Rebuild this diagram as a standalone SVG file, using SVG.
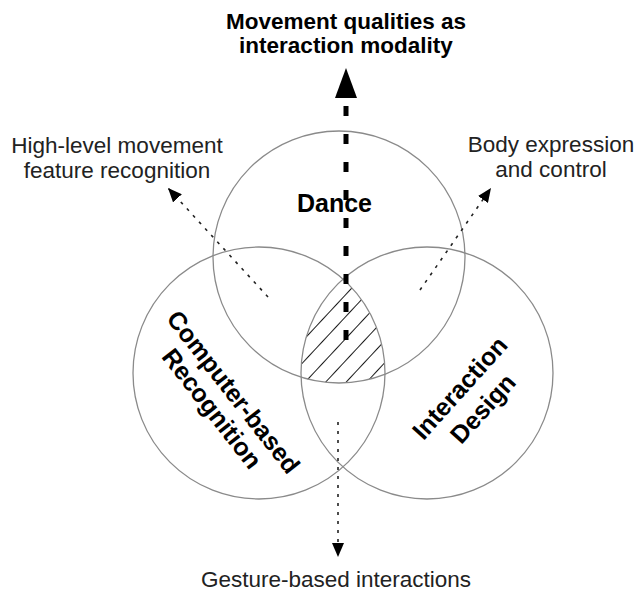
<svg xmlns="http://www.w3.org/2000/svg" width="636" height="593" viewBox="0 0 636 593">
<style>
.c{fill:none;stroke:#8a8a8a;stroke-width:1.3}
.t{font-family:"Liberation Sans",Arial,sans-serif;font-size:22.5px;fill:#222;text-anchor:middle}
.b{font-family:"Liberation Sans",Arial,sans-serif;font-weight:bold;fill:#000;text-anchor:middle}
.dot{fill:none;stroke:#222;stroke-width:1.6;stroke-dasharray:3 6}
</style>
<defs>
<pattern id="hatch" width="15" height="15" patternUnits="userSpaceOnUse" patternTransform="translate(340,300) rotate(43)">
<line x1="0" y1="0" x2="0" y2="15" stroke="#000" stroke-width="1.8"/>
</pattern>
<clipPath id="cC"><circle cx="259" cy="373" r="126"/></clipPath>
<clipPath id="cI"><circle cx="427" cy="373" r="126"/></clipPath>
<marker id="ah" markerUnits="userSpaceOnUse" markerWidth="15" markerHeight="12" refX="14" refY="6" orient="auto" viewBox="0 0 15 12">
<path d="M0,0 L14,6 L0,12 z" fill="#000"/>
</marker>
<marker id="ahBig" markerUnits="userSpaceOnUse" markerWidth="31" markerHeight="22" refX="30" refY="11" orient="auto" viewBox="0 0 31 22">
<path d="M0,0 L30,11 L0,22 z" fill="#000"/>
</marker>
</defs>
<g id="hatched-intersection" clip-path="url(#cC)"><g clip-path="url(#cI)">
<circle cx="339" cy="257" r="126" fill="url(#hatch)"/>
</g></g>
<g id="dance">
<circle class="c" cx="339" cy="257" r="126"/>
<text class="b" x="334.5" y="212" font-size="25">Dance</text>
</g>
<g id="computer-based-recognition">
<circle class="c" cx="259" cy="373" r="126"/>
<g transform="translate(223,400) rotate(52)">
<text class="b" x="0" y="-4.5" font-size="25">Computer-based</text>
<text class="b" x="0" y="22.5" font-size="25">Recognition</text>
</g>
</g>
<g id="interaction-design">
<circle class="c" cx="427" cy="373" r="126"/>
<g transform="translate(471,398) rotate(-48)">
<text class="b" x="0" y="-6.5" font-size="25">Interaction</text>
<text class="b" x="0" y="24.5" font-size="25">Design</text>
</g>
</g>
<g id="connectors">
<path d="M346,340 L346,68" fill="none" stroke="#000" stroke-width="5" stroke-dasharray="10 18" marker-end="url(#ahBig)"/>
<path class="dot" d="M268,297 L168,188" marker-end="url(#ah)"/>
<path class="dot" d="M420,290 L491,188" marker-end="url(#ah)"/>
<path class="dot" d="M338,422 L338,557" marker-end="url(#ah)"/>
</g>
<g id="label-movement-qualities">
<text class="b" x="346" y="29" font-size="22.5">Movement qualities as</text>
<text class="b" x="346" y="53" font-size="22.5">interaction modality</text>
</g>
<g id="label-high-level">
<text class="t" x="117" y="153">High-level movement</text>
<text class="t" x="117" y="178">feature recognition</text>
</g>
<g id="label-body-expression">
<text class="t" x="551" y="152">Body expression</text>
<text class="t" x="551" y="177">and control</text>
</g>
<g id="label-gesture">
<text class="t" x="336" y="587">Gesture-based interactions</text>
</g>
</svg>
